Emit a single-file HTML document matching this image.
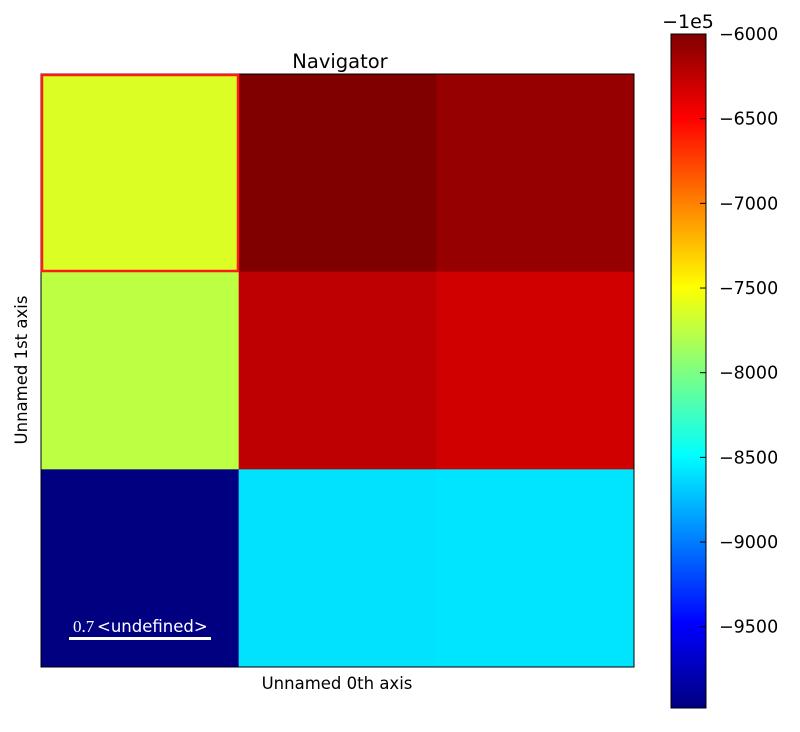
<!DOCTYPE html>
<html><head><meta charset="utf-8"><style>
body{margin:0;background:#fff;}
svg text{font-family:"DejaVu Sans","Liberation Sans",sans-serif;}
</style></head><body>
<svg width="800" height="727" viewBox="0 0 800 727" xmlns="http://www.w3.org/2000/svg">
<defs><linearGradient id="jet" x1="0" y1="1" x2="0" y2="0"></linearGradient></defs>
<g id="cells"></g>
<rect x="41" y="74" width="593" height="593" fill="none" stroke="#000" stroke-width="1"/>
<rect x="42" y="75" width="196" height="196" fill="none" stroke="#ff1a1a" stroke-width="2.5"/>
<text x="340" y="68" font-size="19.5" text-anchor="middle">Navigator</text>
<text x="337" y="689" font-size="16.5" text-anchor="middle">Unnamed 0th axis</text>
<text x="0" y="0" font-size="16.5" text-anchor="middle" transform="translate(27,370) rotate(-90)">Unnamed 1st axis</text>
<text x="73" y="632" font-size="17" fill="#fff" style="font-family:'Liberation Serif',serif">0.7</text>
<text x="97" y="632" font-size="16.5" fill="#fff">&lt;undefined&gt;</text>
<rect x="69" y="637" width="142" height="3" fill="#fff"/>
<rect x="671" y="34" width="35" height="674" fill="url(#jet)" stroke="#000" stroke-width="1"/>
<g id="cticks"></g>
<text x="688" y="28" font-size="19" text-anchor="middle">−1e5</text>
</svg>
<script>
const values=[[-7634,-6000,-6092],[-7751,-6249,-6319],[-9980,-8600,-8590]];
const tickValues=[-6000,-6500,-7000,-7500,-8000,-8500,-9000,-9500];
const tickLabels=["−6000","−6500","−7000","−7500","−8000","−8500","−9000","−9500"];
const vmin=-9980,vmax=-6000;
const ns="http://www.w3.org/2000/svg";
function clip(v){return Math.max(0,Math.min(1,v));}
function jet(x){const r=clip(1.5-Math.abs(4*x-3)),g=clip(1.5-Math.abs(4*x-2)),b=clip(1.5-Math.abs(4*x-1));return `rgb(${Math.round(r*255)},${Math.round(g*255)},${Math.round(b*255)})`;}
function norm(v){return (v-vmin)/(vmax-vmin);}
const x0=41,y0=74,cw=593/3,ch=593/3;
const cells=document.getElementById('cells');
values.forEach((row,i)=>row.forEach((v,j)=>{
 const r=document.createElementNS(ns,'rect');
 r.setAttribute('x',x0+j*cw);r.setAttribute('y',y0+i*ch);
 r.setAttribute('width',cw+0.5);r.setAttribute('height',ch+0.5);
 r.setAttribute('fill',jet(norm(v)));
 
 
 cells.appendChild(r);
}));
const grad=document.getElementById('jet');
for(let k=0;k<=40;k++){const s=document.createElementNS(ns,'stop');s.setAttribute('offset',k/40);s.setAttribute('stop-color',jet(k/40));grad.appendChild(s);}
const cbTop=34,cbBot=708;
function cy(v){return cbBot-norm(v)*(cbBot-cbTop);}
const ct=document.getElementById('cticks');
tickValues.forEach((v,k)=>{
 const y=cy(v);
 const l=document.createElementNS(ns,'line');
 l.setAttribute('x1',700);l.setAttribute('x2',706);l.setAttribute('y1',y);l.setAttribute('y2',y);l.setAttribute('stroke','#000');
 
 
 ct.appendChild(l);
 const t=document.createElementNS(ns,'text');
 t.setAttribute('x',719);t.setAttribute('y',y+6);t.setAttribute('font-size','17.5');
 t.textContent=tickLabels[k];
 
 
 ct.appendChild(t);
});
</script>
</body></html>
